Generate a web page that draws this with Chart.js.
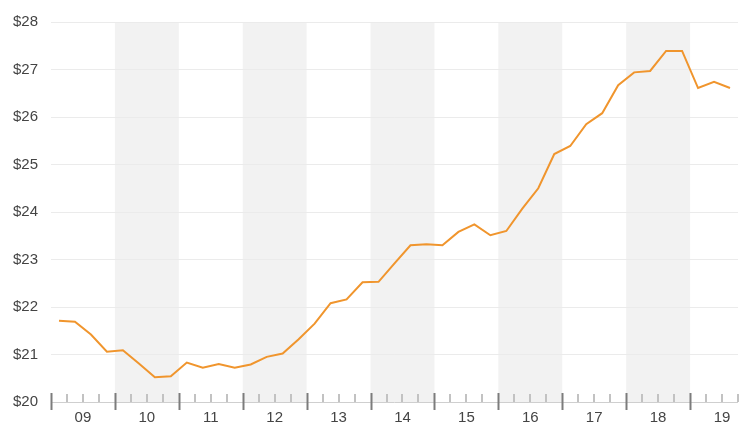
<!DOCTYPE html>
<html>
<head>
<meta charset="utf-8">
<title>Quarterly price</title>
<script src="https://cdn.jsdelivr.net/npm/chart.js@4/dist/chart.umd.min.js"></script>
<style>
  html, body { margin: 0; padding: 0; background: #ffffff; }
  #wrap { width: 743px; height: 424px; }
</style>
</head>
<body>
<div id="wrap"><canvas id="chart" width="743" height="424"></canvas></div>
<script>
// Quarter labels (one point per quarter, plotted mid-quarter)
const quarters = [
  '2009-Q1','2009-Q2','2009-Q3','2009-Q4',
  '2010-Q1','2010-Q2','2010-Q3','2010-Q4',
  '2011-Q1','2011-Q2','2011-Q3','2011-Q4',
  '2012-Q1','2012-Q2','2012-Q3','2012-Q4',
  '2013-Q1','2013-Q2','2013-Q3','2013-Q4',
  '2014-Q1','2014-Q2','2014-Q3','2014-Q4',
  '2015-Q1','2015-Q2','2015-Q3','2015-Q4',
  '2016-Q1','2016-Q2','2016-Q3','2016-Q4',
  '2017-Q1','2017-Q2','2017-Q3','2017-Q4',
  '2018-Q1','2018-Q2','2018-Q3','2018-Q4',
  '2019-Q1','2019-Q2','2019-Q3'
];

// Price in dollars for each quarter
const prices = [
  21.71, 21.69, 21.42, 21.06,
  21.09, 20.81, 20.52, 20.54,
  20.83, 20.72, 20.80, 20.72,
  20.79, 20.95, 21.02, 21.32,
  21.65, 22.08, 22.16, 22.52,
  22.53, 22.92, 23.30, 23.32,
  23.30, 23.58, 23.74, 23.51,
  23.60, 24.07, 24.50, 25.22,
  25.39, 25.85, 26.08, 26.67,
  26.94, 26.97, 27.39, 27.39,
  26.61, 26.74, 26.61
];

// Year tick labels along the bottom
const years = [2009, 2010, 2011, 2012, 2013, 2014, 2015, 2016, 2017, 2018, 2019];
// Years drawn with a grey background band
const shadedYears = [2010, 2012, 2014, 2016, 2018];

const yMin = 20, yMax = 28;
const xMin = 2009, xMax = 2019.75;

function quarterToX(q) {
  const [y, qq] = q.split('-Q');
  return Number(y) + (Number(qq) - 0.5) / 4;
}

const points = quarters.map((q, i) => ({ x: quarterToX(q), y: prices[i] }));

const FONT = '"Liberation Sans", Arial, Helvetica, sans-serif';

// Grey bands behind alternate years
const yearBands = {
  id: 'yearBands',
  beforeDraw(chart) {
    const { ctx, chartArea, scales } = chart;
    ctx.save();
    ctx.fillStyle = '#f2f2f2';
    shadedYears.forEach(y => {
      const x0 = scales.x.getPixelForValue(y);
      const x1 = scales.x.getPixelForValue(Math.min(y + 1, xMax));
      ctx.fillRect(x0, chartArea.top, x1 - x0, chartArea.bottom - chartArea.top);
    });
    ctx.restore();
  }
};

// Year and quarter tick marks on the bottom axis
const axisMarks = {
  id: 'axisMarks',
  afterDatasetsDraw(chart) {
    const { ctx, chartArea, scales } = chart;
    const base = chartArea.bottom;
    ctx.save();
    // quarter ticks
    ctx.strokeStyle = '#c2c2c2';
    ctx.lineWidth = 2;
    years.forEach(y => {
      [0.25, 0.5, 0.75].forEach(f => {
        const v = y + f;
        if (v > xMax + 1e-9) return;
        const px = Math.round(scales.x.getPixelForValue(v));
        ctx.beginPath();
        ctx.moveTo(px, base - 8);
        ctx.lineTo(px, base);
        ctx.stroke();
      });
    });
    // year ticks
    ctx.strokeStyle = '#7c7c7c';
    ctx.lineWidth = 2;
    years.forEach(y => {
      const px = Math.round(scales.x.getPixelForValue(y)) + 0.5;
      ctx.beginPath();
      ctx.moveTo(px, base - 9);
      ctx.lineTo(px, base + 8);
      ctx.stroke();
    });
    ctx.restore();
  }
};

new Chart(document.getElementById('chart'), {
  type: 'line',
  data: {
    datasets: [{
      data: points,
      borderColor: '#f0952d',
      borderWidth: 2,
      pointRadius: 0,
      pointHoverRadius: 0,
      tension: 0,
      fill: false
    }]
  },
  options: {
    responsive: false,
    animation: false,
    devicePixelRatio: 1,
    layout: { padding: { top: 21, right: 5, left: 0, bottom: 0 } },
    plugins: {
      legend: { display: false },
      tooltip: { enabled: false }
    },
    scales: {
      x: {
        type: 'linear',
        min: xMin,
        max: xMax,
        border: { display: false },
        grid: { display: false, drawTicks: false },
        afterBuildTicks(scale) {
          scale.ticks = years.map(y => ({ value: y + 0.5 }));
        },
        afterFit(scale) { scale.height = 20; },
        ticks: {
          autoSkip: false,
          maxRotation: 0,
          padding: 7,
          color: '#444444',
          font: { family: FONT, size: 15 },
          callback: v => String(Math.floor(v) % 100).padStart(2, '0')
        }
      },
      y: {
        min: yMin,
        max: yMax,
        border: { display: false },
        grid: {
          drawTicks: false,
          lineWidth: 1,
          color: c => (c.tick && c.tick.value === yMin) ? '#cfcfcf' : '#ebebeb'
        },
        afterFit(scale) { scale.width = 51; },
        ticks: {
          stepSize: 1,
          padding: 13,
          color: '#444444',
          font: { family: FONT, size: 15 },
          callback: v => '$' + v
        }
      }
    }
  },
  plugins: [yearBands, axisMarks]
});
</script>
</body>
</html>
